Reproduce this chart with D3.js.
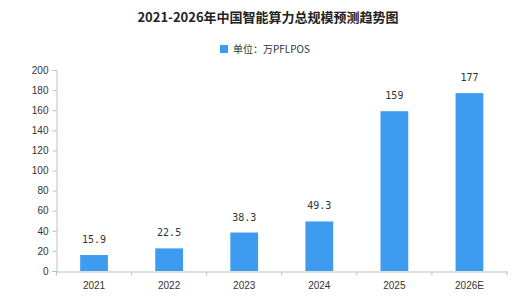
<!DOCTYPE html>
<html>
<head>
<meta charset="utf-8">
<script src="https://cdn.jsdelivr.net/npm/d3@7"></script>
<style>
  body { margin: 0; background: #fff; }
  svg { display: block; }
</style>
</head>
<body>
<div id="chart"></div>
<script>
var years = ['2021', '2022', '2023', '2024', '2025', '2026E'];
var values = [15.9, 22.5, 38.3, 49.3, 159, 177];
var labels = ['15.9', '22.5', '38.3', '49.3', '159', '177'];
var yTicks = [0, 20, 40, 60, 80, 100, 120, 140, 160, 180, 200];

var width = 522,
  height = 297;

var svg = d3.select('#chart').append('svg')
  .attr('width', width)
  .attr('height', height);

var x = d3.scaleBand()
  .domain(years)
  .range([56.5, 507])
  .paddingInner(0.63)
  .paddingOuter(0.315);

var y = d3.scaleLinear()
  .domain([0, 200])
  .range([271, 70]);

// title
svg.append('text')
  .attr('x', 268)
  .attr('y', 22)
  .attr('text-anchor', 'middle')
  .style('font-family', '"Noto Sans CJK SC", sans-serif')
  .style('font-weight', 'bold')
  .style('font-size', '13px')
  .style('fill', '#222')
  .text('2021-2026年中国智能算力总规模预测趋势图');

// legend
svg.append('rect')
  .attr('x', 220)
  .attr('y', 45)
  .attr('width', 8)
  .attr('height', 8)
  .attr('fill', '#3d9cf0');

svg.append('text')
  .attr('x', 233)
  .attr('y', 53)
  .style('font-family', '"Noto Sans CJK SC", sans-serif')
  .style('font-size', '10px')
  .style('fill', '#333')
  .text('单位：万PFLPOS');

// y axis
var yAxis = svg.append('g')
  .attr('transform', 'translate(56.5,0)')
  .call(d3.axisLeft(y).tickValues(yTicks).tickSize(4).tickPadding(4));

// x axis
var xAxis = svg.append('g')
  .attr('transform', 'translate(0,271.5)')
  .call(d3.axisBottom(x).tickSize(0).tickPadding(10));

// category separators on x axis
var step = x.step();
svg.selectAll('.sep')
  .data(d3.range(years.length + 1))
  .enter().append('line')
  .attr('class', 'sep')
  .attr('x1', function(i) { return 56.5 + i * step; })
  .attr('x2', function(i) { return 56.5 + i * step; })
  .attr('y1', 271.5)
  .attr('y2', 275.5)
  .attr('stroke', '#bfbfbf');

svg.selectAll('.domain').attr('stroke', '#bfbfbf');
svg.selectAll('.tick line').attr('stroke', '#bfbfbf');
svg.selectAll('.tick text')
  .style('font-family', '"Liberation Sans", Arial, sans-serif')
  .style('font-size', '10px')
  .style('fill', '#333');

// bars
svg.selectAll('.bar')
  .data(values)
  .enter().append('rect')
  .attr('class', 'bar')
  .attr('x', function(d, i) { return x(years[i]); })
  .attr('width', x.bandwidth())
  .attr('y', function(d) { return y(d); })
  .attr('height', function(d) { return y(0) - y(d); })
  .attr('fill', '#3d9cf0');

// value labels
svg.selectAll('.val')
  .data(values)
  .enter().append('text')
  .attr('class', 'val')
  .attr('x', function(d, i) { return x(years[i]) + x.bandwidth() / 2; })
  .attr('y', function(d) { return y(d) - 12; })
  .attr('text-anchor', 'middle')
  .style('font-family', '"DejaVu Sans Mono", monospace')
  .style('font-size', '10px')
  .style('fill', '#333')
  .text(function(d, i) { return labels[i]; });
</script>
</body>
</html>
